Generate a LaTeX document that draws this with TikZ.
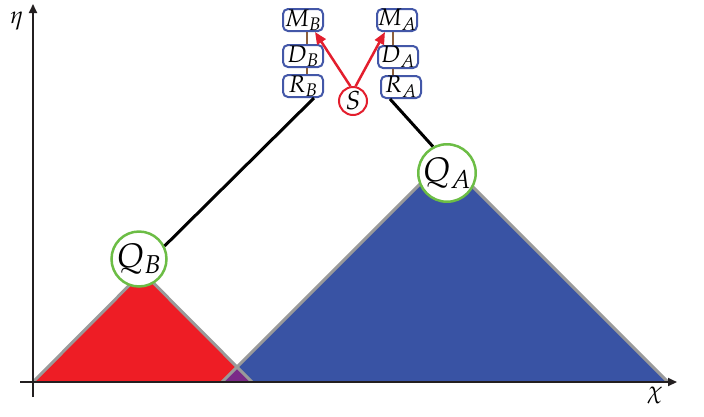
\documentclass[tikz,border=0pt]{standalone}
\usepackage{mathpazo}
\usetikzlibrary{arrows.meta}
\definecolor{trired}{HTML}{EE1D25}
\definecolor{triblue}{HTML}{3953A4}
\definecolor{overlap}{HTML}{7A2A88}
\definecolor{edgegray}{HTML}{9A9A9A}
\definecolor{boxblue}{HTML}{4357A8}
\definecolor{ringgreen}{HTML}{6CBD45}
\definecolor{srcred}{HTML}{E31E2D}
\definecolor{linkbrown}{HTML}{8B5E3C}
\definecolor{axisblack}{HTML}{231F20}
\tikzset{
  x=1pt, y=-1pt,
  unitbox/.style={draw=boxblue, line width=2pt, rounded corners=5pt, fill=white,
    minimum width=40pt, minimum height=22pt, inner sep=0pt, font=\fontsize{24}{27}\selectfont},
  qring/.style={circle, draw=ringgreen, line width=2.5pt, fill=white,
    minimum size=55pt, inner sep=0pt, font=\fontsize{34}{38}\selectfont},
  sring/.style={circle, draw=srcred, line width=2pt, fill=white,
    minimum size=28pt, inner sep=0pt, font=\fontsize{26}{29}\selectfont},
  axisline/.style={draw=axisblack, line width=2pt, -{Triangle[length=9pt,width=8pt]}},
  edge/.style={draw=edgegray, line width=3pt},
  chain/.style={draw=linkbrown, line width=2pt},
  feed/.style={draw=srcred, line width=2.5pt, -{Triangle[length=12pt,width=10pt]}},
  tether/.style={draw=black, line width=3pt},
}
\begin{document}
\begin{tikzpicture}
\useasboundingbox (0,0) rectangle (704,416);

% light cones
\fill[trired] (33,382) -- (142.5,272) -- (252,382) -- cycle;
\fill[triblue] (222,382) -- (445,159) -- (668,382) -- cycle;
\fill[overlap] (222,382) -- (237,367) -- (252,382) -- cycle;
\draw[edge] (33,382) -- (142.5,272) -- (252,382);
\draw[edge] (222,382) -- (445,159) -- (668,382);

% axes
\draw[axisline] (33,397) -- (33,4);
\draw[axisline] (20,382) -- (677,382);
\node (eta) at (17,21) {\fontsize{24}{28}\selectfont$\eta$};
\node (chi) at (655,395) {\fontsize{24}{28}\selectfont$\chi$};

% apparatus
\node[unitbox] (MB) at (303,20) {$M_B$};
\node[unitbox] (DB) at (303,56) {$D_B$};
\node[unitbox] (RB) at (303,86) {$R_B$};
\node[unitbox] (MA) at (397,20) {$M_A$};
\node[unitbox] (DA) at (398,57) {$D_A$};
\node[unitbox] (RA) at (401,87) {$R_A$};
\node[sring] (S) at (353,101) {$S$};

\draw[chain] ([xshift=4pt]MB.south) -- ([xshift=4pt]DB.north);
\draw[chain] ([xshift=4pt]DB.south) -- ([xshift=4pt]RB.north);
\draw[chain] ([xshift=-4pt]MA.south) -- ([xshift=-5pt]DA.north);
\draw[chain] ([xshift=-5pt]DA.south) -- ([xshift=-8pt]RA.north);

\node[qring] (QB) at (139,259) {$Q_B$};
\node[qring] (QA) at (447,173) {$Q_A$};

\draw[tether] ([xshift=-10pt]RB.south east) -- (QB.27);
\draw[tether] ([xshift=10pt]RA.south west) -- (QA.118);

\draw[feed] (S.100) -- ([xshift=-9pt]MB.south east);
\draw[feed] (S.80) -- ([xshift=9pt]MA.south west);
\end{tikzpicture}
\end{document}
